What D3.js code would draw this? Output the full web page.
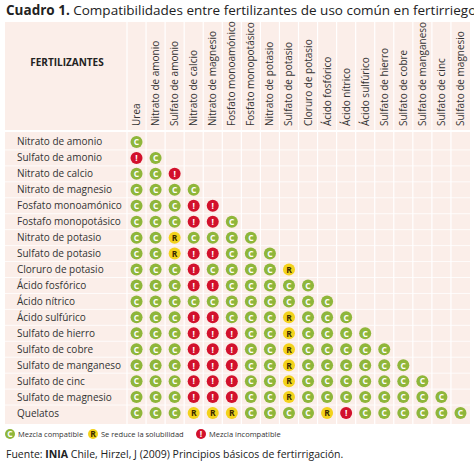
<!DOCTYPE html>
<html><head><meta charset="utf-8">
<script src="https://cdn.jsdelivr.net/npm/d3@7"></script>
<style>body{margin:0;background:#fff}text{font-family:"Open Sans",sans-serif}</style>
</head><body><svg id="chart" width="474" height="464"></svg>
<script>
let rowNames = ["Nitrato de amonio","Sulfato de amonio","Nitrato de calcio","Nitrato de magnesio","Fosfato monoamónico","Fostafo monopotásico","Nitrato de potasio","Sulfato de potasio","Cloruro de potasio","Ácido fosfórico","Ácido nítrico","Ácido sulfúrico","Sulfato de hierro","Sulfato de cobre","Sulfato de manganeso","Sulfato de cinc","Sulfato de magnesio","Quelatos"]
let colNames = ["Urea","Nitrato de amonio","Sulfato de amonio","Nitrato de calcio","Nitrato de magnesio","Fosfato monoamónico","Fosfato monopotásico","Nitrato de potasio","Sulfato de potasio","Cloruro de potasio","Ácido fosfórico","Ácido nítrico","Ácido sulfúrico","Sulfato de hierro","Sulfato de cobre","Sulfato de manganeso","Sulfato de cinc","Sulfato de magnesio"]
// one string per row, C compatible, R reduces solubility, I incompatible
let matrix = [
  "C",
  "IC",
  "CCI",
  "CCCC",
  "CCCII",
  "CCCIIC",
  "CCRCCCC",
  "CCRIICCC",
  "CCCICCCCR",
  "CCCIICCCCC",
  "CCCCCCCCCCC",
  "CCCIICCCRCCC",
  "CCCIIICCRCCCC",
  "CCCIIICCRCCCCC",
  "CCCIIICCRCCCCCC",
  "CCCIIICCRCCCCCCC",
  "CCCIIICCRCCCCCCCC",
  "CCCRRRCCCCRICCCCCC"
]
let legendItems = [["C","Mezcla compatible"],["R","Se reduce la solubilidad"],["I","Mezcla incompatible"]]
let fills = {C:"#8fb63a", R:"#f3d21b", I:"#d2112c"}
let inks = {C:"#fff", R:"#3a2a00", I:"#fff"}

let svg = d3.select("#chart")
let bg = "#fbeee9"
let leftX = 5, rightX = 470, topY = 22, headBottom = 131, bottomY = 424, colStart = 127

let t = svg.append("text").attr("x", 6).attr("y", 15).attr("font-size", 13.5).attr("fill", "#222")
t.append("tspan").attr("font-weight", "bold").text("Cuadro 1. ")
t.append("tspan").text("Compatibilidades entre fertilizantes de uso común en fertirriego.")

svg.append("rect").attr("x", leftX).attr("y", topY).attr("width", rightX - leftX).attr("height", bottomY - topY).attr("fill", bg)

let x = d3.scaleBand().domain(colNames).range([colStart, rightX]).paddingInner(0)
let y = d3.scaleBand().domain(rowNames).range([headBottom + 3, bottomY - 3])

// white grid lines
svg.selectAll(".vl").data(colNames).enter().append("line")
  .attr("x1", d => x(d)).attr("x2", d => x(d)).attr("y1", topY).attr("y2", bottomY)
  .attr("stroke", "#fff").attr("stroke-width", 1.2)
svg.append("line").attr("x1", leftX).attr("x2", rightX).attr("y1", headBottom).attr("y2", headBottom)
  .attr("stroke", "#fff").attr("stroke-width", 2)
svg.selectAll(".hl").data(rowNames.slice(1)).enter().append("line")
  .attr("x1", leftX).attr("x2", rightX).attr("y1", d => y(d)).attr("y2", d => y(d))
  .attr("stroke", "#fff").attr("stroke-width", 0.8)

svg.append("text").attr("x", 67).attr("y", 66).attr("text-anchor", "middle")
  .attr("font-size", 10).attr("font-weight", "bold").attr("fill", "#222").text("FERTILIZANTES")

svg.selectAll(".cl").data(colNames).enter().append("text")
  .attr("transform", d => `translate(${x(d) + x.bandwidth() / 2 + 3.5},${headBottom - 5}) rotate(-90)`)
  .attr("font-size", 10).attr("fill", "#333").text(d => d)

svg.selectAll(".rl").data(rowNames).enter().append("text")
  .attr("x", 17).attr("y", d => y(d) + y.bandwidth() / 2 + 3.5)
  .attr("font-size", 10).attr("fill", "#333").text(d => d)

let cells = []
matrix.forEach((row, i) => row.split("").forEach((v, j) => cells.push({ r: rowNames[i], c: colNames[j], v })))

let mark = (g, v) => {
  g.append("circle").attr("r", 6).attr("fill", fills[v])
  g.append("text").attr("text-anchor", "middle").attr("y", 3.3).attr("font-size", 8.5)
    .attr("font-weight", "bold").attr("fill", inks[v]).text(v == "I" ? "!" : v)
}
svg.selectAll(".cell").data(cells).enter().append("g")
  .attr("transform", d => `translate(${x(d.c) + x.bandwidth() / 2},${y(d.r) + y.bandwidth() / 2})`)
  .each(function (d) { mark(d3.select(this), d.v) })

let lx = [10, 93, 201]
legendItems.forEach((it, i) => {
  let g = svg.append("g").attr("transform", `translate(${lx[i]},434)`)
  mark(g, it[0])
  g.select("circle").attr("r", 5)
  g.append("text").attr("x", 8).attr("y", 3).attr("font-size", 7.5).attr("fill", "#333").text(it[1])
})

let s = svg.append("text").attr("x", 6).attr("y", 458).attr("font-size", 10.5).attr("fill", "#222")
s.append("tspan").text("Fuente: ")
s.append("tspan").attr("font-weight", "bold").text("INIA")
s.append("tspan").text(" Chile, Hirzel, J (2009) Principios básicos de fertirrigación.")
</script></body></html>
